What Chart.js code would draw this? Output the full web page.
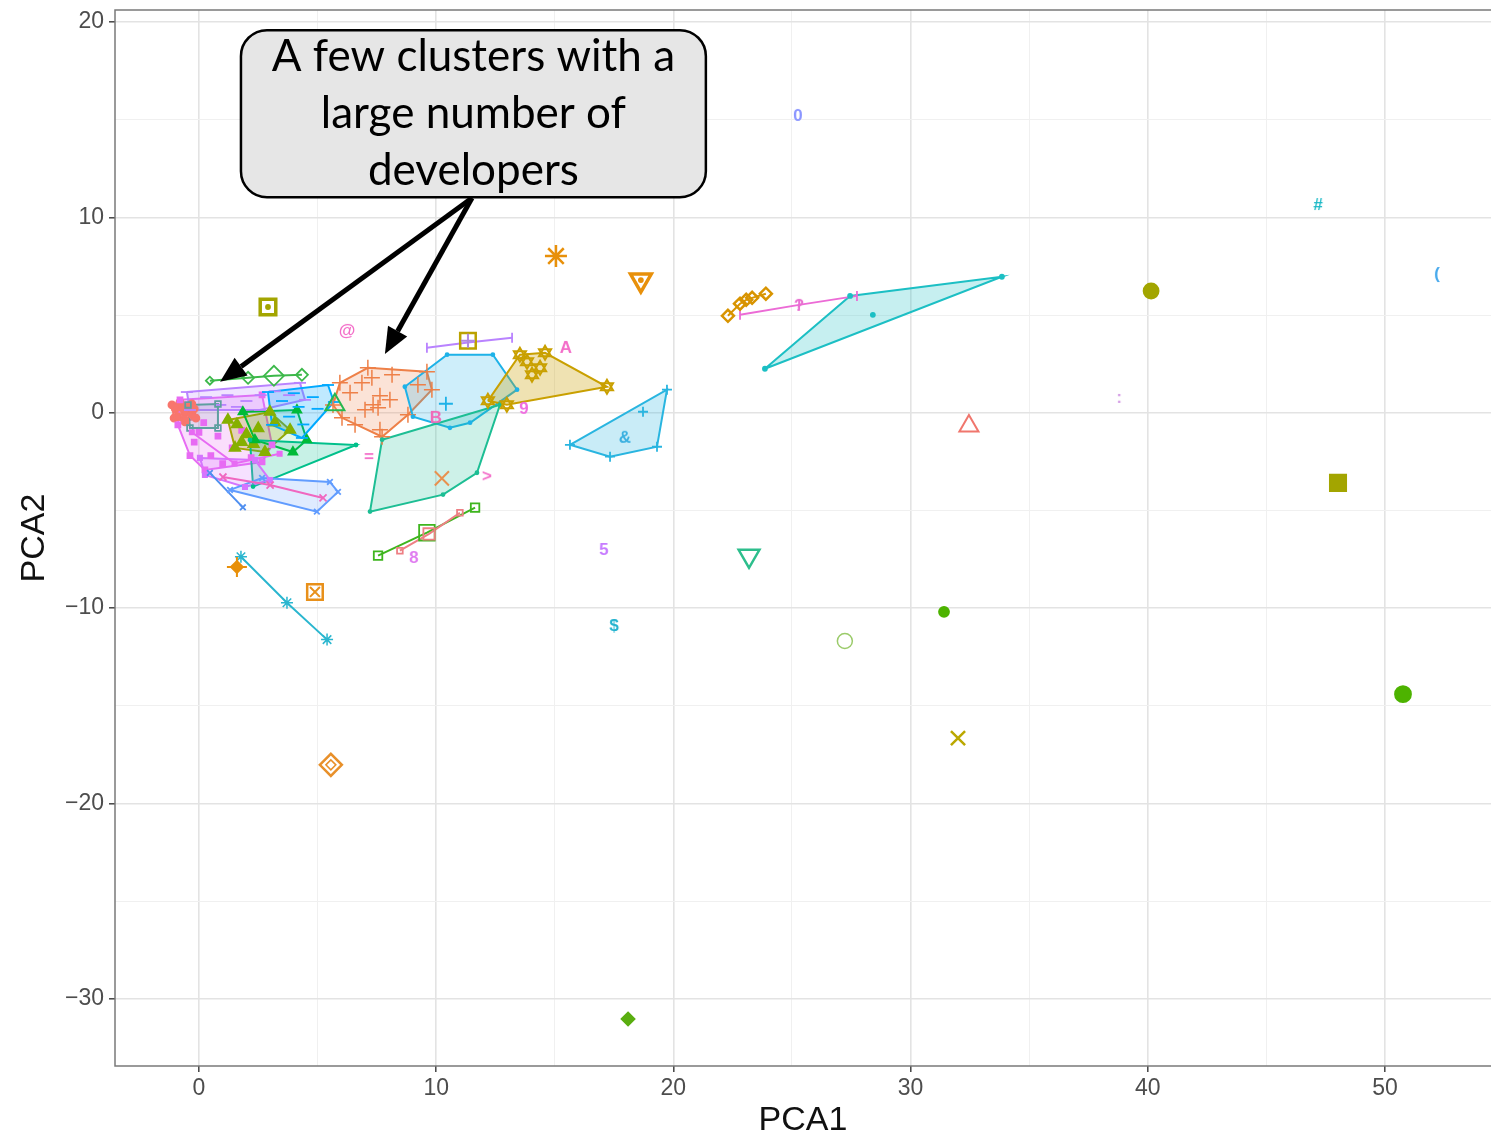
<!DOCTYPE html>
<html>
<head>
<meta charset="utf-8">
<script src="https://cdn.jsdelivr.net/npm/chart.js@4.4.0/dist/chart.umd.min.js"></script>
<style>
  html, body { margin: 0; padding: 0; background: #fff; }
  #grafico { display: block; }
</style>
</head>
<body>
<canvas id="grafico" width="1491" height="1138"></canvas>
<script>
// eixos
const xLimits = [-3.54, 54.47];
const yLimits = [-33.43, 20.61];
const xTitle = 'PCA1';
const yTitle = 'PCA2';

// contornos (vertices do envoltorio convexo de cada cluster)
const hullRed = [[-1.14,0.40],[-0.80,0.55],[-0.30,0.45],[-0.13,-0.27],[-0.59,-0.47],[-1.05,-0.27]];
const hullMagenta = [[-0.80,0.66],[2.66,0.91],[3.08,-1.65],[2.66,-2.52],[0.25,-2.93],[-0.38,-2.19],[-0.89,-0.62]];
const hullPurple = [[-0.51,1.06],[4.26,1.53],[4.47,0.66],[2.57,0.14],[-0.38,0.14]];
const hullTealBox = [[-0.46,0.40],[0.80,0.45],[0.80,-0.78],[-0.38,-0.78]];
const hullOlive = [[1.22,-0.37],[2.99,0.04],[3.84,-0.88],[2.78,-2.01],[1.52,-1.80]];
const hullGreenOutline = [[1.85,0.04],[4.13,0.14],[4.55,-1.39],[3.96,-2.01],[2.36,-1.39]];
const hullGreenLeft = [[2.15,-1.39],[6.62,-1.65],[2.28,-3.78]];
const hullBlueLeft = [[2.91,1.06],[5.44,1.42],[5.69,0.55],[4.34,-1.29],[3.08,-0.62]];
const hullMagentaLow = [[0.04,-2.31],[2.36,-2.42],[2.99,-3.44],[1.94,-3.80],[0.25,-3.18]];
const hullBlueLow = [[1.31,-3.95],[2.66,-3.34],[5.52,-3.54],[5.86,-4.05],[4.97,-5.06]];
const hullPlus = [[5.94,1.53],[7.12,2.30],[9.61,2.10],[9.82,1.18],[8.81,-0.10],[7.72,-1.23],[6.03,-0.26],[5.65,0.40]];
const hullHex = [[8.68,1.33],[10.46,2.97],[12.39,2.97],[13.41,1.18],[11.43,-0.51],[10.58,-0.77],[9.02,-0.20]];
const hullGreenBig = [[7.72,-1.38],[12.69,0.41],[11.72,-3.07],[10.29,-4.19],[7.21,-5.06]];
const hullGold = [[12.18,0.61],[13.53,2.97],[14.59,3.07],[17.20,1.33],[12.98,0.41]];
const hullAmp = [[15.64,-1.64],[17.33,-2.25],[19.31,-1.74],[19.73,1.18]];
const hullCyanRight = [[23.86,2.25],[27.45,5.98],[33.85,6.96]];

// clusters pequenos (quase em linha)
const lineQuestion = [[22.81,5.01],[25.30,5.52],[27.74,5.98]];
const lineGoldDiamonds = [[22.30,4.96],[22.81,5.58],[23.07,5.78],[23.32,5.88],[23.90,6.09]];
const linePurple = [[9.61,3.32],[11.34,3.60],[13.20,3.84]];
const lineGreenDiamonds = [[0.46,1.64],[2.07,1.79],[3.16,1.89],[4.34,1.94]];
const lineGreenSquares = [[7.55,-7.31],[9.61,-6.14],[11.64,-4.86]];
const lineSalmon = [[8.47,-7.06],[9.70,-6.20],[11.00,-5.12]];
const lineCyanDiag = [[1.77,-7.37],[3.71,-9.72],[5.40,-11.61]];
const linePinkLow = [[1.01,-3.29],[3.00,-3.70],[5.23,-4.36]];
const lineBlueLow = [[0.46,-3.08],[1.85,-4.84]];
const lineMagentaMid = [[-0.30,-1.00],[1.50,-2.60],[3.40,-2.10]];

// pontos internos dos clusters
const ptsRed = [[-1.0,0.2],[-0.8,0.45],[-0.6,0.0],[-0.4,0.3],[-0.9,-0.2],[-0.3,-0.1],[-0.6,-0.35],[-0.7,0.25],[-0.2,0.2]];
const ptsMagenta = [[0.2,-0.5],[0.8,-1.2],[1.4,-1.8],[0.5,-2.2],[1.8,-0.9],[2.2,-2.3],[-0.2,-1.5],[1.0,-2.6],[0.0,-1.0]];
const ptsPurple = [[0.3,0.8],[1.2,0.9],[2.0,0.6],[3.2,1.1],[3.8,0.9],[0.9,0.4],[1.6,0.3],[2.6,0.9]];
const ptsBlueLeft = [[3.5,0.6],[4.2,0.3],[4.8,0.8],[3.8,-0.2],[4.4,-0.6],[5.0,0.2],[4.0,1.0]];
const ptsOlive = [[1.6,-0.6],[2.0,-1.1],[2.5,-0.8],[2.3,-1.6],[3.2,-0.5],[1.8,-1.5]];
const ptsPlus = [[6.37,1.02],[6.87,1.53],[7.29,1.79],[7.63,0.87],[7.34,0.41],[7.55,0.26],[8.05,0.66],[7.00,0.15],[7.63,-0.87],[6.58,-0.61],[8.14,1.94],[9.23,1.43]];
const ptsHex = [[10.41,0.46]];
const ptsGold = [[13.83,2.61],[14.04,1.94],[14.38,2.30]];
const ptsAmp = [[18.72,0.05]];
const ptsCyanRight = [[28.41,5.01]];

// clusters de um so desenvolvedor
const oliveDot = [[40.14,6.23]];
const orangeStar = [[15.05,8.02]];
const orangeDownTri = [[18.63,6.79]];
const oliveBox = [[2.91,5.41]];
const boxPlus = [[11.34,3.68]];
const redTri = [[32.46,-0.68]];
const oliveSquare = [[48.02,-3.59]];
const tealDownTri = [[23.19,-7.32]];
const greenRing = [[27.23,-11.68]];
const greenDotSmall = [[31.41,-10.19]];
const greenDotBig = [[50.76,-14.40]];
const oliveCross = [[32.00,-16.65]];
const orangeDiamond = [[5.56,-18.02]];
const greenDiamond = [[18.09,-31.02]];
const orangeCross = [[10.24,-3.36]];
const orangeBoxX = [[4.89,-9.17]];
const orangeSpark = [[1.60,-7.89]];
const greenTriOpen = [[5.73,0.41]];

// clusters marcados com caracteres
const glyphChars = ['0','#','(','@',':','5','$','>','=','A','9','B','8','?','&'];
const glyphPts = [[25.25,15.24],[47.18,10.68],[52.19,7.15],[6.24,4.24],[38.79,0.81],[17.07,-6.97],[17.50,-10.86],[12.14,-3.20],[7.17,-2.22],[15.47,3.37],[13.70,0.25],[9.99,-0.21],[9.06,-7.38],[25.30,5.52],[17.96,-1.23]];
const glyphColors = ['#8A95FF','#1BB9C6','#45A8EC','#F36CC8','#D6A0E6','#C77CFF','#24B3CF','#F36CC8','#F36CC8','#F36CC8','#EF6BE0','#F06AB8','#E07CF0','#E870D0','#3AB0E0'];

// anotacao
const noteText = ['A few clusters with a', 'large number of', 'developers'];
const noteBox = { xMin: 1.77, xMax: 21.37, yMin: 11.03, yMax: 19.58 };
const arrowFrom = [11.51, 10.99];
const arrowTo = [[0.89, 1.58], [7.84, 3.01]];

function toXY(pts) {
    return pts.map(p => ({ x: p[0], y: p[1] }));
}

function withAlpha(hex, a) {
    const n = parseInt(hex.slice(1), 16);
    return `rgba(${n >> 16}, ${(n >> 8) & 255}, ${n & 255}, ${a})`;
}

function hullSet(pts, color, a) {
    return {
        data: toXY(pts.concat([pts[0]])),
        showLine: true,
        fill: 'shape',
        borderColor: color,
        borderWidth: 2,
        backgroundColor: withAlpha(color, a),
        pointRadius: 0
    };
}

function pathSet(pts, color) {
    return {
        data: toXY(pts),
        showLine: true,
        fill: false,
        borderColor: color,
        borderWidth: 2,
        pointRadius: 0
    };
}

function markSet(pts, color, style, r, extra) {
    return Object.assign({
        data: toXY(pts),
        showLine: false,
        pointStyle: style,
        pointRadius: r,
        pointBorderColor: color,
        pointBackgroundColor: 'transparent',
        pointBorderWidth: 1.8
    }, extra || {});
}

function glyph(ch, color) {
    const c = document.createElement('canvas');
    c.width = 24;
    c.height = 24;
    const g = c.getContext('2d');
    g.font = 'bold 17px "Liberation Sans"';
    g.fillStyle = color;
    g.textAlign = 'center';
    g.textBaseline = 'middle';
    g.fillText(ch, 12, 13);
    return c;
}

const filled = color => ({ pointBackgroundColor: color });

const hulls = [
    hullSet(hullRed, '#F8766D', 0.6),
    hullSet(hullMagenta, '#E76BF3', 0.22),
    hullSet(hullPurple, '#B983FF', 0.22),
    hullSet(hullTealBox, '#5E9FA0', 0.15),
    hullSet(hullOlive, '#A3A500', 0.25),
    hullSet(hullGreenOutline, '#00BA38', 0.1),
    hullSet(hullGreenLeft, '#00C08B', 0.22),
    hullSet(hullBlueLeft, '#00A9FF', 0.25),
    hullSet(hullMagentaLow, '#D575FE', 0.22),
    hullSet(hullBlueLow, '#619CFF', 0.2),
    hullSet(hullPlus, '#EE8048', 0.22),
    hullSet(hullHex, '#1EB2E8', 0.22),
    hullSet(hullGreenBig, '#1DBE94', 0.22),
    hullSet(hullGold, '#C9A000', 0.3),
    hullSet(hullAmp, '#29B5E0', 0.25),
    hullSet(hullCyanRight, '#1CBFC4', 0.25)
];

const paths = [
    pathSet(lineQuestion, '#EC6BD6'),
    pathSet(lineGoldDiamonds, '#D89400'),
    pathSet(linePurple, '#B983FF'),
    pathSet(lineGreenDiamonds, '#3CB84A'),
    pathSet(lineGreenSquares, '#3EB51E'),
    pathSet(lineSalmon, '#EE7F84'),
    pathSet(lineCyanDiag, '#2AB6CF'),
    pathSet(linePinkLow, '#F067C0'),
    pathSet(lineBlueLow, '#4F8FF0'),
    pathSet(lineMagentaMid, '#E76BF3')
];

const marks = [
    // pontos dos clusters
    markSet(hullRed.concat(ptsRed), '#F8766D', 'circle', 3.5, filled('#F8766D')),
    markSet(hullMagenta.concat(ptsMagenta), '#E76BF3', 'rect', 3.5, filled('#E76BF3')),
    markSet(hullPurple.concat(ptsPurple), '#B983FF', 'line', 6),
    markSet(hullTealBox, '#5E9FA0', 'rect', 4),
    markSet(hullOlive.concat(ptsOlive), '#86B000', 'triangle', 6, filled('#86B000')),
    markSet(hullGreenOutline, '#00BA38', 'triangle', 5, filled('#00BA38')),
    markSet(hullGreenLeft, '#00C08B', 'circle', 1.5, filled('#00C08B')),
    markSet(hullBlueLeft.concat(ptsBlueLeft), '#00A9FF', 'line', 6),
    markSet(hullMagentaLow, '#D575FE', 'rect', 3, filled('#D575FE')),
    markSet(lineMagentaMid, '#E76BF3', 'rect', 3, filled('#E76BF3')),
    markSet(hullBlueLow, '#619CFF', 'crossRot', 4),
    markSet(hullPlus.concat(ptsPlus), '#EE8048', 'cross', 8, { pointBorderWidth: 1.5 }),
    markSet(hullHex, '#1EB2E8', 'circle', 1.5, filled('#1EB2E8')),
    markSet(ptsHex, '#1EB2E8', 'cross', 7),
    markSet(hullGreenBig, '#1DBE94', 'circle', 1.5, filled('#1DBE94')),
    markSet(hullGold.concat(ptsGold), '#C9A000', 'triangle', 7, { pointBorderWidth: 2 }),
    markSet(hullGold.concat(ptsGold), '#C9A000', 'triangle', 7, { pointBorderWidth: 2, pointRotation: 180 }),
    markSet(hullAmp.concat(ptsAmp), '#29B5E0', 'cross', 5),
    markSet(hullCyanRight.concat(ptsCyanRight), '#1CBFC4', 'circle', 2, filled('#1CBFC4')),
    markSet(lineQuestion, '#EC6BD6', 'line', 5, { pointRotation: 90 }),
    markSet(lineGoldDiamonds, '#D89400', 'rectRot', 6, { pointBorderWidth: 2.5 }),
    markSet(linePurple, '#B983FF', 'line', 5, { pointRotation: 90 }),
    markSet(lineGreenDiamonds, '#3CB84A', 'rectRot', [4, 6, 10, 6]),
    markSet(lineGreenSquares, '#3EB51E', 'rect', [6, 11, 6]),
    markSet(lineSalmon, '#EE7F84', 'rect', [4, 8, 4]),
    markSet(lineCyanDiag, '#2AB6CF', 'star', 6, { pointBorderWidth: 1.5 }),
    markSet(linePinkLow, '#F067C0', 'crossRot', 5),
    markSet(lineBlueLow, '#4F8FF0', 'crossRot', 4),
    // clusters isolados
    markSet(oliveDot, '#A2A500', 'circle', 7.5, filled('#A2A500')),
    markSet(orangeStar, '#E8900A', 'star', 11, { pointBorderWidth: 2.5 }),
    markSet(orangeDownTri, '#E8900A', 'triangle', 12, { pointBorderWidth: 3.5, pointRotation: 180 }),
    markSet(orangeDownTri, '#E8900A', 'circle', 2, filled('#E8900A')),
    markSet(oliveBox, '#A3A500', 'rect', 11, { pointBorderWidth: 3.5 }),
    markSet(oliveBox, '#A3A500', 'circle', 2, filled('#A3A500')),
    markSet(boxPlus, '#BBA200', 'rect', 11, { pointBorderWidth: 2.5 }),
    markSet(boxPlus, '#B08AE0', 'cross', 7, { pointBorderWidth: 2 }),
    markSet(redTri, '#F0766D', 'triangle', 11, { pointBorderWidth: 2 }),
    markSet(oliveSquare, '#A3A500', 'rect', 11.5, filled('#A3A500')),
    markSet(tealDownTri, '#2DBE8C', 'triangle', 12, { pointBorderWidth: 2.5, pointRotation: 180 }),
    markSet(greenRing, '#9BCB6A', 'circle', 7.5, { pointBorderWidth: 1.5 }),
    markSet(greenDotSmall, '#4DB300', 'circle', 5, filled('#4DB300')),
    markSet(greenDotBig, '#4DB300', 'circle', 8, filled('#4DB300')),
    markSet(oliveCross, '#BBA800', 'crossRot', 10, { pointBorderWidth: 2.5 }),
    markSet(orangeDiamond, '#E8902A', 'rectRot', 11, { pointBorderWidth: 2.5 }),
    markSet(orangeDiamond, '#E8902A', 'rectRot', 5, { pointBorderWidth: 1.5 }),
    markSet(greenDiamond, '#5AAE10', 'rectRot', 6.5, filled('#5AAE10')),
    markSet(orangeCross, '#E8914F', 'crossRot', 10, { pointBorderWidth: 2 }),
    markSet(orangeBoxX, '#E8901A', 'rect', 11, { pointBorderWidth: 2.5 }),
    markSet(orangeBoxX, '#E8901A', 'crossRot', 7, { pointBorderWidth: 2 }),
    markSet(orangeSpark, '#E8900A', 'rectRot', 6, filled('#E8900A')),
    markSet(orangeSpark, '#E8900A', 'cross', 10, { pointBorderWidth: 2 }),
    markSet(greenTriOpen, '#27B84F', 'triangle', 11, { pointBorderWidth: 2 })
];

glyphChars.forEach((ch, i) => {
    marks.push(markSet([glyphPts[i]], glyphColors[i], glyph(ch, glyphColors[i]), 8));
});

// o primeiro dataset e desenhado por ultimo
const datasets = hulls.concat(paths, marks).reverse();

function tickLabel(v) {
    if (Math.abs(v % 10) > 1e-6) return '';
    return v < 0 ? '\u2212' + Math.abs(v) : String(v);
}

// marcas a cada 5 unidades
function everyFive(scale) {
    const ticks = [];
    for (let v = Math.ceil(scale.min / 5) * 5; v <= scale.max; v += 5) {
        ticks.push({ value: v });
    }
    scale.ticks = ticks;
}

const isMajor = ctx => ctx.tick && Math.abs(ctx.tick.value % 10) < 1e-6;
const tickFont = { family: 'Liberation Sans', size: 23 };
const titleFont = { family: 'Liberation Sans', size: 34, lineHeight: 1 };
const gridColor = ctx => isMajor(ctx) ? '#e3e3e3' : '#f0f0f0';
const gridWidth = ctx => isMajor(ctx) ? 1.6 : 1;
const tickColor = ctx => isMajor(ctx) ? '#444' : 'rgba(0,0,0,0)';

// moldura do painel
const framePlugin = {
    id: 'moldura',
    afterDatasetsDraw(chart) {
        const { ctx, chartArea: a } = chart;
        ctx.save();
        ctx.strokeStyle = '#7a7a7a';
        ctx.lineWidth = 1.5;
        ctx.beginPath();
        ctx.moveTo(a.right, a.top);
        ctx.lineTo(a.left, a.top);
        ctx.lineTo(a.left, a.bottom);
        ctx.lineTo(a.right, a.bottom);
        ctx.stroke();
        ctx.restore();
    }
};

// caixa de texto e setas
const notePlugin = {
    id: 'nota',
    afterDraw(chart) {
        const { ctx, scales: { x, y } } = chart;
        const x0 = x.getPixelForValue(noteBox.xMin);
        const x1 = x.getPixelForValue(noteBox.xMax);
        const y0 = y.getPixelForValue(noteBox.yMax);
        const y1 = y.getPixelForValue(noteBox.yMin);
        const tx = x.getPixelForValue(arrowFrom[0]);
        const ty = y.getPixelForValue(arrowFrom[1]);

        ctx.save();
        ctx.fillStyle = '#000';
        ctx.strokeStyle = '#000';
        arrowTo.forEach(p => {
            const hx = x.getPixelForValue(p[0]);
            const hy = y.getPixelForValue(p[1]);
            const ang = Math.atan2(hy - ty, hx - tx);
            const len = 26, half = 11;
            const bx = hx - len * Math.cos(ang);
            const by = hy - len * Math.sin(ang);
            ctx.lineWidth = 5;
            ctx.beginPath();
            ctx.moveTo(tx, ty);
            ctx.lineTo(bx, by);
            ctx.stroke();
            ctx.beginPath();
            ctx.moveTo(hx, hy);
            ctx.lineTo(bx + half * Math.sin(ang), by - half * Math.cos(ang));
            ctx.lineTo(bx - half * Math.sin(ang), by + half * Math.cos(ang));
            ctx.closePath();
            ctx.fill();
        });

        ctx.beginPath();
        ctx.roundRect(x0, y0, x1 - x0, y1 - y0, 26);
        ctx.fillStyle = '#e6e6e6';
        ctx.fill();
        ctx.lineWidth = 2.5;
        ctx.stroke();

        // ajusta o tamanho da fonte a largura da caixa
        ctx.font = '40px Lato';
        const w = ctx.measureText(noteText[0]).width;
        const size = Math.round(40 * (x1 - x0 - 66) / w);
        ctx.font = size + 'px Lato';
        ctx.fillStyle = '#000';
        ctx.textAlign = 'center';
        ctx.textBaseline = 'middle';
        const cx = (x0 + x1) / 2;
        const cy = (y0 + y1) / 2;
        noteText.forEach((t, i) => {
            ctx.fillText(t, cx, cy + (i - 1) * 57);
        });
        ctx.restore();
    }
};

new Chart(document.getElementById('grafico').getContext('2d'), {
    type: 'scatter',
    data: { datasets },
    options: {
        responsive: false,
        animation: false,
        events: [],
        layout: { autoPadding: false, padding: { top: 10, right: 0, left: 0, bottom: 0 } },
        plugins: {
            legend: { display: false },
            tooltip: { enabled: false }
        },
        scales: {
            x: {
                type: 'linear',
                min: xLimits[0],
                max: xLimits[1],
                afterBuildTicks: everyFive,
                afterFit: s => { s.height = 72; s.paddingLeft = 0; s.paddingRight = 0; },
                border: { display: false },
                grid: { color: gridColor, lineWidth: gridWidth, tickColor, tickLength: 6, tickWidth: 1.5 },
                ticks: { autoSkip: false, maxRotation: 0, padding: 3, color: '#4d4d4d', font: tickFont, callback: tickLabel },
                title: { display: true, text: xTitle, color: '#111', font: titleFont, padding: { top: 0, bottom: 0 } }
            },
            y: {
                type: 'linear',
                min: yLimits[0],
                max: yLimits[1],
                afterBuildTicks: everyFive,
                afterFit: s => { s.width = 115; s.paddingTop = 0; s.paddingBottom = 0; },
                border: { display: false },
                grid: { color: gridColor, lineWidth: gridWidth, tickColor, tickLength: 6, tickWidth: 1.5 },
                ticks: { autoSkip: false, padding: 5, color: '#4d4d4d', font: tickFont, callback: tickLabel },
                title: { display: true, text: yTitle, color: '#111', font: titleFont, padding: { top: 18, bottom: 0 } }
            }
        }
    },
    plugins: [framePlugin, notePlugin]
});
</script>
</body>
</html>
